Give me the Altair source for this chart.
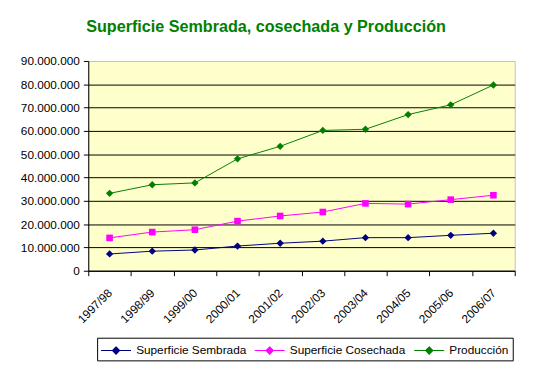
import altair as alt
import pandas as pd

years = ["1997/98", "1998/99", "1999/00", "2000/01", "2001/02",
         "2002/03", "2003/04", "2004/05", "2005/06", "2006/07"]
sembrada = [7.2, 8.4, 8.9, 10.6, 11.8, 12.7, 14.2, 14.2, 15.2, 16.1]      # millions
cosechada = [14.1, 16.6, 17.6, 21.3, 23.5, 25.2, 28.9, 28.6, 30.5, 32.4]
produccion = [33.2, 36.9, 37.7, 48.0, 53.4, 60.2, 60.7, 67.0, 71.2, 79.7]
series = ["Superficie Sembrada", "Superficie Cosechada", "Producción"]
colors = ["#000080", "#FF00FF", "#008000"]
y_ticks = [0, 10e6, 20e6, 30e6, 40e6, 50e6, 60e6, 70e6, 80e6, 90e6]

rows = []
for name, vals in zip(series, [sembrada, cosechada, produccion]):
    for yr, v in zip(years, vals):
        rows.append({"anio": yr, "serie": name, "valor": v * 1e6})
df = pd.DataFrame(rows)

FONT = "Arial, Liberation Sans"

x = alt.X("anio:O", sort=years,
          scale=alt.Scale(type="band", paddingInner=0, paddingOuter=0),
          axis=alt.Axis(title=None, labelAngle=-45, labelAlign="right",
                        labelBaseline="middle", labelFontSize=12, labelFont=FONT,
                        labelColor="black", tickBand="extent", tickSize=5,
                        tickColor="black", domainColor="black", labelPadding=15,
                        grid=False))
y = alt.Y("valor:Q", scale=alt.Scale(domain=[0, 90e6], nice=False),
          axis=alt.Axis(title=None, values=y_ticks, labelFontSize=12, labelFont=FONT,
                        labelColor="black", tickSize=5, tickColor="black",
                        domainColor="black", labelPadding=4,
                        labelExpr="replace(replace(format(datum.value, ','), ',', '.'), ',', '.')",
                        grid=True,
                        gridColor={"condition": {"test": "datum.value >= 90000000", "value": "transparent"},
                                   "value": "black"},
                        gridWidth=1))

legend_symbol = "M-1.9,0L1.9,0M0,-0.45L0.45,0L0,0.45L-0.45,0Z"
leg = alt.Legend(title=None, orient="none", legendX=9, legendY=281, direction="horizontal",
                 gridAlign="each",
                 strokeColor="black", padding=4, labelFontSize=12,
                 labelFont=FONT, labelColor="black", symbolType=legend_symbol,
                 symbolSize=256, symbolOffset=6.2, labelOffset=11.4,
                 columnPadding=5, symbolStrokeWidth=1.2)
color = alt.Color("serie:N", scale=alt.Scale(domain=series, range=colors), legend=leg)

base = alt.Chart(df)
lines = base.mark_line(strokeWidth=1).encode(x=x, y=y, color=color)
diamonds = base.transform_filter(alt.datum.serie != "Superficie Cosechada").mark_point(
    shape="diamond", filled=True, size=55, opacity=1).encode(x=x, y=y, color=color)
squares = base.transform_filter(alt.datum.serie == "Superficie Cosechada").mark_point(
    shape="square", filled=True, size=45, opacity=1).encode(x=x, y=y, color=color)

chart = alt.layer(lines, diamonds, squares).properties(
    width=433, height=213,
    autosize="none",
    padding={"left": 81.5, "top": 51, "right": 14.5, "bottom": 99},
    title=alt.TitleParams("Superficie Sembrada, cosechada y Producción", font=FONT,
                          fontSize=16.4, fontWeight="bold", color="#008000",
                          anchor="middle", dx=-36, offset=20),
).configure_view(fill="#FFFFCC", stroke="#C0C0C0", strokeWidth=1)

chart.save("out.html", embed_options={"renderer": "svg", "actions": False})
